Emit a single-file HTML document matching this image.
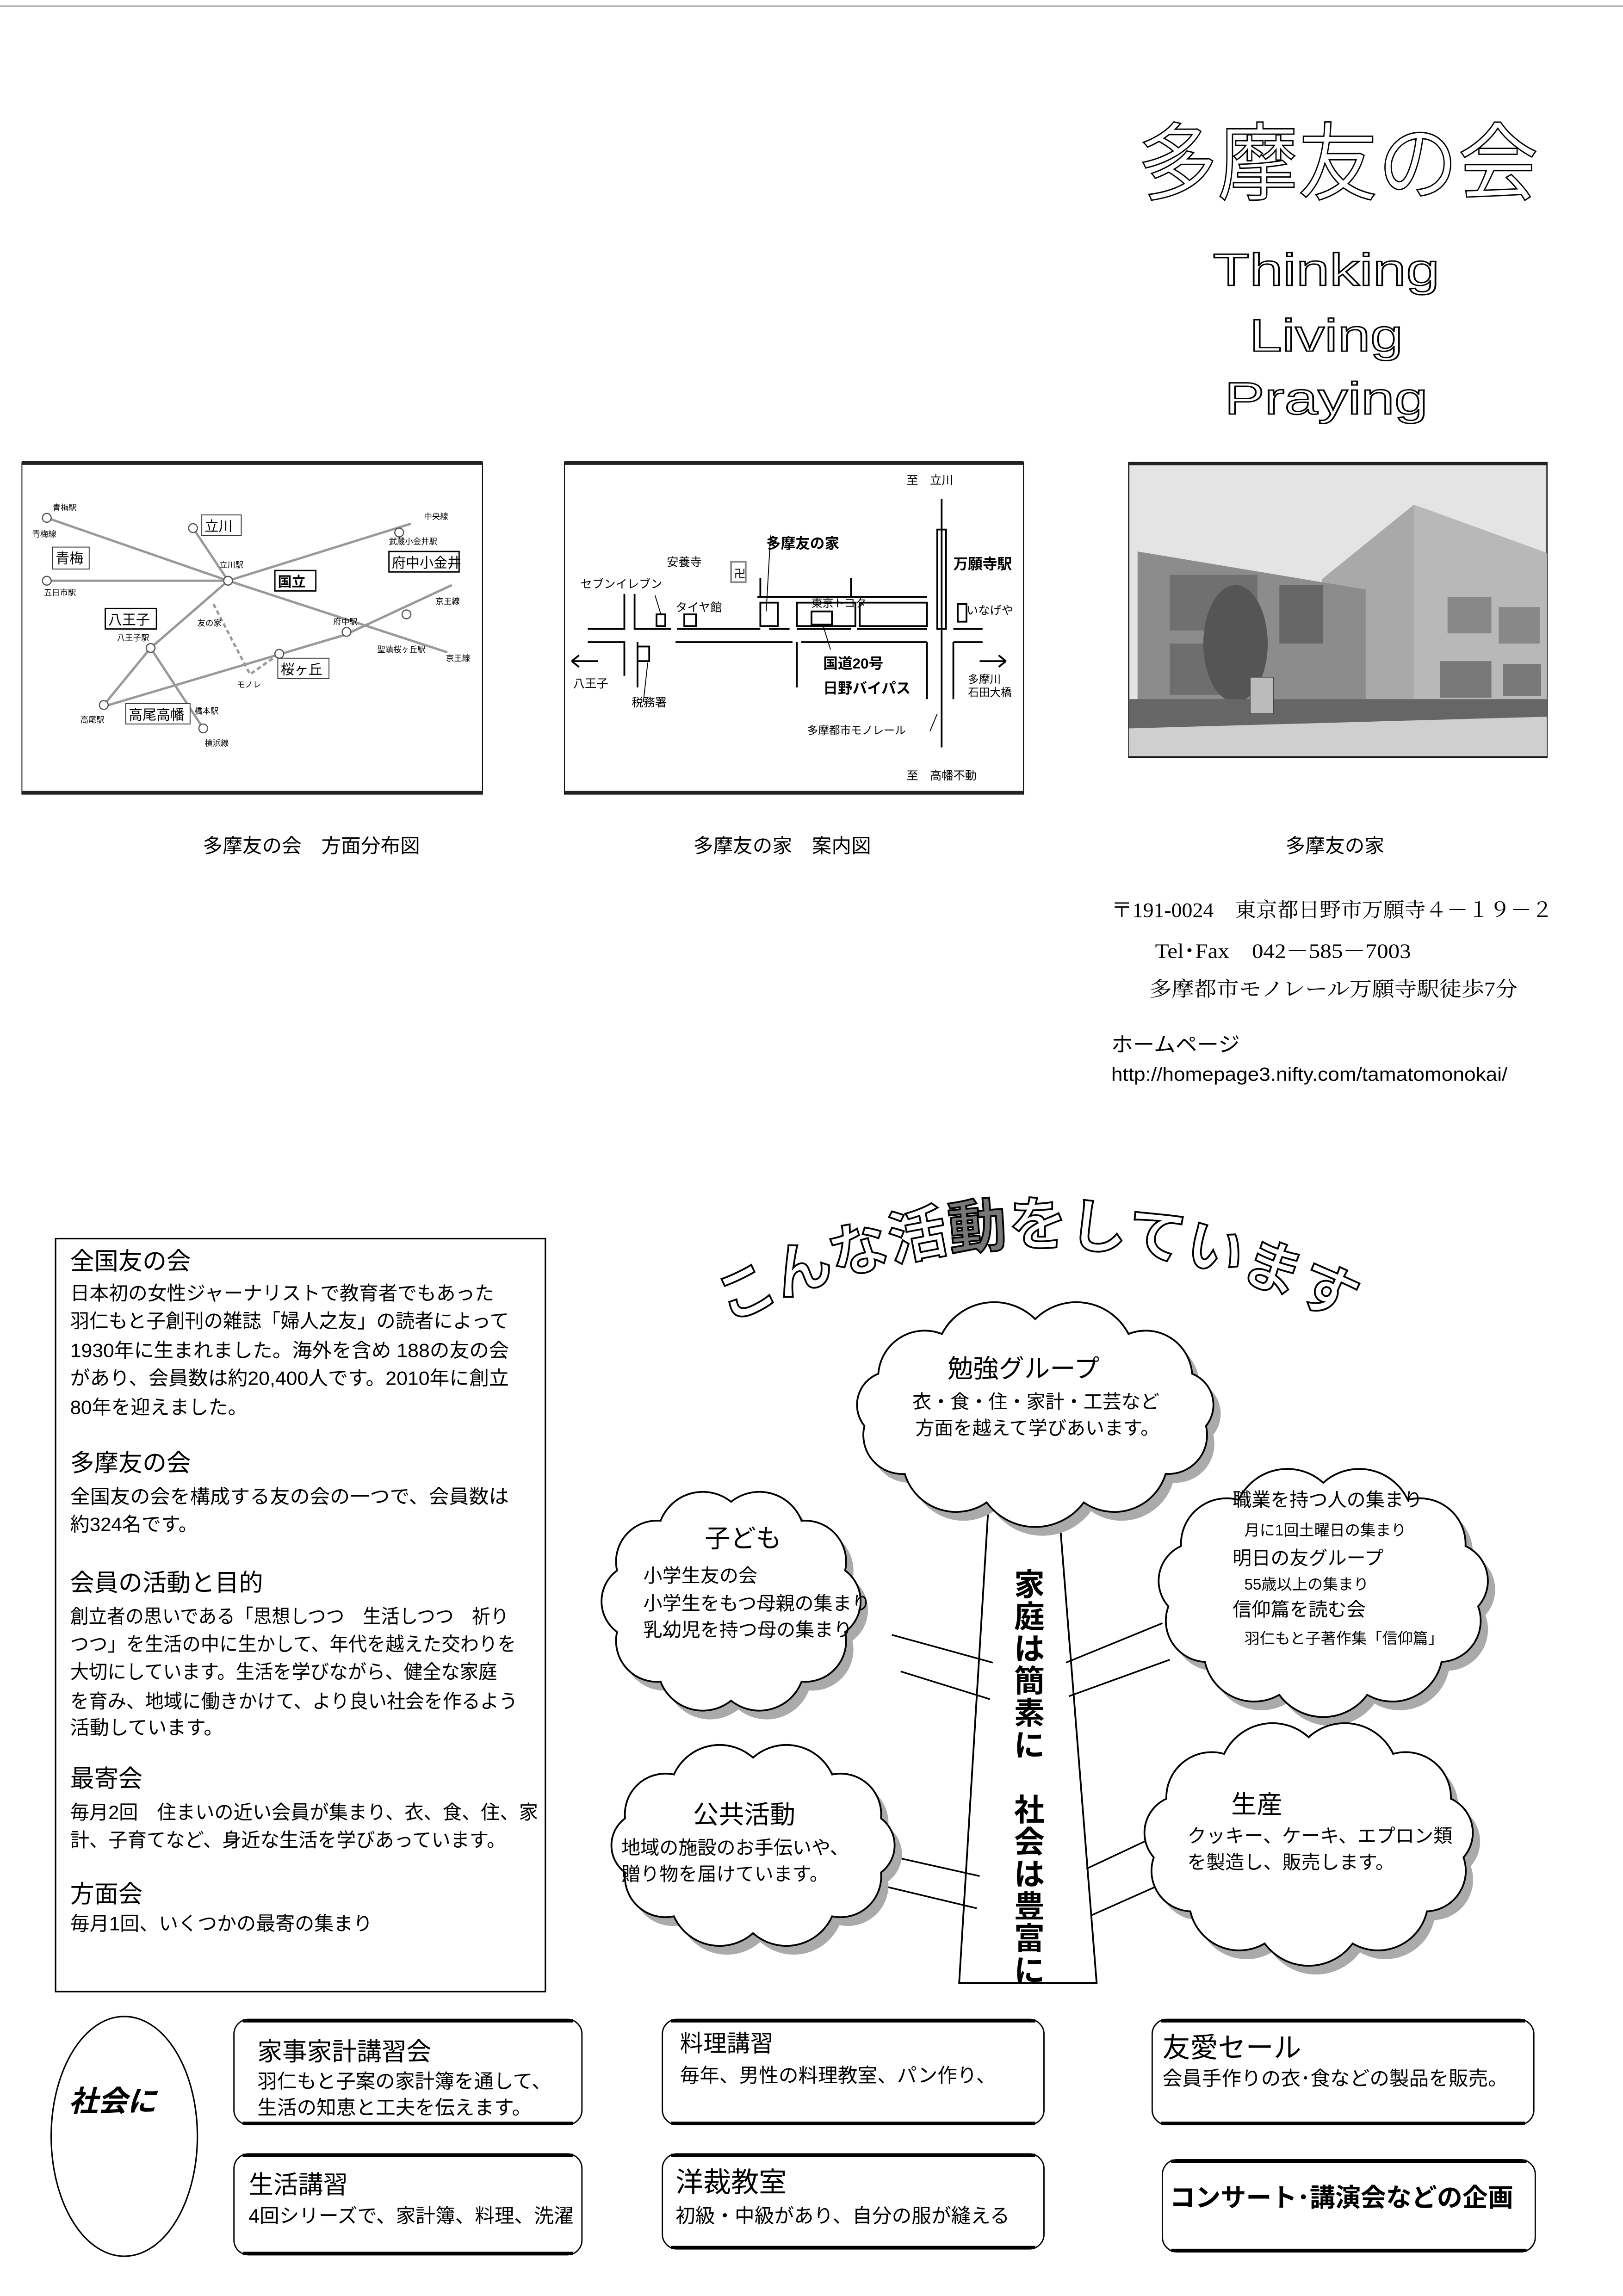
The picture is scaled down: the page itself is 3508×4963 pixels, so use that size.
<!DOCTYPE html>
<html><head><meta charset="utf-8">
<style>
html,body{margin:0;padding:0;background:#fff;}
svg{display:block;}
text{font-family:"Liberation Sans","Noto Sans CJK JP",sans-serif;fill:#000;}
.s{font-family:"Liberation Serif","Noto Serif CJK SC",serif;}
.b{font-weight:bold;}
</style></head>
<body>
<svg id="pg" xmlns="http://www.w3.org/2000/svg" width="3508" height="4963" viewBox="0 0 1110 1570">
<rect width="1110" height="1570" fill="#fff"/>
<line x1="0" y1="4" x2="1110" y2="4" stroke="#aaa" stroke-width="1"/>

<!-- Title -->
<g fill="#fff" stroke="#000" stroke-width="0.9">
<text x="778" y="132" font-size="58" textLength="274" lengthAdjust="spacingAndGlyphs" style="fill:#fff">多摩友の会</text>
<text x="907" y="195" font-size="31" text-anchor="middle" textLength="155" lengthAdjust="spacingAndGlyphs" style="fill:#fff">Thinking</text>
<text x="907" y="240" font-size="31" text-anchor="middle" textLength="105" lengthAdjust="spacingAndGlyphs" style="fill:#fff">Living</text>
<text x="907" y="283" font-size="31" text-anchor="middle" textLength="139" lengthAdjust="spacingAndGlyphs" style="fill:#fff">Praying</text>
</g>

<!-- Map 1 -->
<g>
<rect x="15" y="316" width="315" height="227" fill="#fff" stroke="#000" stroke-width="0.6"/>
<line x1="15" y1="316.5" x2="330" y2="316.5" stroke="#222" stroke-width="2.5"/>
<line x1="15" y1="542" x2="330" y2="542" stroke="#222" stroke-width="2.5"/>
<g stroke="#999" stroke-width="1.6" fill="none">
<polyline points="32,354 156,397 306,446"/>
<polyline points="32,397 156,397 281,358"/>
<polyline points="71,483 236,434 309,400"/>
<polyline points="132,361 156,397 103,443 71,482"/>
<polyline points="103,443 139,498"/>
<polyline points="146,413 160,440 171,461 191,447" stroke-dasharray="3,2"/>
</g>
<g fill="#fff" stroke="#555" stroke-width="0.8">
<circle cx="32" cy="354" r="3"/><circle cx="32" cy="397" r="3"/><circle cx="132" cy="361" r="3"/>
<circle cx="156" cy="397" r="3"/><circle cx="273" cy="364" r="3"/><circle cx="237" cy="432" r="3"/>
<circle cx="278" cy="420" r="3"/><circle cx="103" cy="443" r="3"/><circle cx="71" cy="482" r="3"/>
<circle cx="139" cy="498" r="3"/><circle cx="191" cy="447" r="3"/>
</g>
<g font-size="5.5" fill="#333">
<text x="36" y="349">青梅駅</text><text x="22" y="367">青梅線</text><text x="30" y="407">五日市駅</text>
<text x="290" y="355">中央線</text><text x="266" y="372">武蔵小金井駅</text><text x="298" y="413">京王線</text>
<text x="150" y="388">立川駅</text><text x="228" y="427">府中駅</text><text x="258" y="446">聖蹟桜ヶ丘駅</text>
<text x="305" y="452">京王線</text><text x="80" y="438">八王子駅</text><text x="55" y="494">高尾駅</text>
<text x="133" y="488">橋本駅</text><text x="140" y="510">横浜線</text><text x="135" y="428">友の家</text>
<text x="162" y="470">モノレ</text>
</g>
<g font-size="9.5">
<rect x="36" y="374" width="25" height="15" fill="#fff" stroke="#333" stroke-width="0.6"/><text x="38" y="385">青梅</text>
<rect x="138" y="352" width="27" height="14" fill="#fff" stroke="#333" stroke-width="0.6"/><text x="140" y="363">立川</text>
<rect x="188" y="390" width="28" height="14" fill="#fff" stroke="#000" stroke-width="0.9"/><text x="190" y="401" class="b">国立</text>
<rect x="266" y="377" width="48" height="14" fill="#fff" stroke="#000" stroke-width="0.9"/><text x="268" y="388">府中小金井</text>
<rect x="72" y="416" width="35" height="14" fill="#fff" stroke="#000" stroke-width="0.9"/><text x="74" y="427">八王子</text>
<rect x="190" y="450" width="35" height="14" fill="#fff" stroke="#333" stroke-width="0.6"/><text x="192" y="461">桜ヶ丘</text>
<rect x="86" y="481" width="44" height="14" fill="#fff" stroke="#333" stroke-width="0.6"/><text x="88" y="492">高尾高幡</text>
</g>
</g>

<!-- Map 2 -->
<g>
<rect x="386" y="316" width="314" height="227" fill="#fff" stroke="#000" stroke-width="0.6"/>
<line x1="386" y1="316.5" x2="700" y2="316.5" stroke="#222" stroke-width="2.5"/>
<line x1="386" y1="542" x2="700" y2="542" stroke="#222" stroke-width="2.5"/>
<g stroke="#000" stroke-width="1.2" fill="none">
<polyline points="402,430 427,430 427,406"/>
<polyline points="434,406 434,430 459,430"/>
<line x1="463" y1="430" x2="520" y2="430"/>
<line x1="526" y1="430" x2="540" y2="430"/>
<line x1="545" y1="430" x2="582" y2="430"/>
<line x1="586" y1="430" x2="634" y2="430"/>
<line x1="652" y1="430" x2="672" y2="430"/>
<polyline points="402,439 427,439 427,462"/>
<polyline points="436,439 436,470"/>
<polyline points="462,439 542,439"/>
<polyline points="545,439 545,470"/>
<polyline points="548,439 634,439"/>
<polyline points="652,439 652,478"/>
<polyline points="652,439 672,439"/>
<polyline points="634,439 634,478"/>
<polyline points="518,408 634,408"/>
<polyline points="582,395 582,408"/>
<line x1="520" y1="395" x2="520" y2="408"/>
<rect x="520" y="412" width="12" height="16"/>
<rect x="545" y="412" width="40" height="16"/>
<rect x="588" y="412" width="46" height="16"/>
<rect x="555" y="418" width="14" height="9"/>
<rect x="468" y="420" width="8" height="8"/>
<rect x="449" y="420" width="6" height="8"/>
<rect x="655" y="413" width="6" height="12"/>
<rect x="436" y="442" width="8" height="10"/>
<rect x="500" y="384" width="10" height="14" stroke="#888"/>
<line x1="644" y1="341" x2="644" y2="511"/>
<rect x="641" y="362" width="6" height="68"/>
<line x1="448" y1="407" x2="452" y2="420" stroke-width="0.6"/>
<line x1="443" y1="453" x2="440" y2="480" stroke-width="0.6"/>
<line x1="527" y1="366" x2="524" y2="418" stroke-width="0.6"/>
<line x1="563" y1="428" x2="568" y2="444" stroke-width="0.6"/>
<line x1="641" y1="488" x2="636" y2="500" stroke-width="0.6"/>
</g>
<g font-size="10" fill="#000">
<path d="M391 452 h18 M391 452 l5 -4 M391 452 l5 4" stroke="#000" fill="none" stroke-width="1.2"/>
<path d="M670 452 h18 M688 452 l-5 -4 M688 452 l-5 4" stroke="#000" fill="none" stroke-width="1.2"/>
<text x="620" y="331" font-size="8">至　立川</text>
<text x="524" y="375" font-size="10" class="b">多摩友の家</text>
<text x="456" y="387" font-size="8">安養寺</text>
<text x="502" y="395" font-size="8">卍</text>
<text x="397" y="402" font-size="8">セブンイレブン</text>
<text x="462" y="418" font-size="8">タイヤ館</text>
<text x="555" y="415" font-size="7.5">東京トヨタ</text>
<text x="652" y="389" font-size="10" class="b">万願寺駅</text>
<text x="661" y="420" font-size="8">いなげや</text>
<text x="392" y="470" font-size="8">八王子</text>
<text x="432" y="483" font-size="8">税務署</text>
<text x="563" y="457" font-size="10" class="b">国道20号</text>
<text x="563" y="474" font-size="10" class="b">日野バイパス</text>
<text x="662" y="467" font-size="7.5">多摩川</text>
<text x="662" y="476" font-size="7.5">石田大橋</text>
<text x="552" y="502" font-size="7.5">多摩都市モノレール</text>
<text x="620" y="533" font-size="8">至　高幡不動</text>
</g>
</g>

<!-- Photo -->
<g>
<rect x="772" y="316" width="286" height="202" fill="#e4e4e4" stroke="#000" stroke-width="0.8"/>
<line x1="772" y1="317" x2="1058" y2="317" stroke="#222" stroke-width="2"/>
<line x1="772" y1="517" x2="1058" y2="517" stroke="#222" stroke-width="2"/>
<polygon points="904,396 967,345 1058,378 1058,485 904,485" fill="#a9a9a9"/>
<polygon points="967,345 1058,378 1058,485 967,485" fill="#b8b8b8"/>
<polygon points="778,377 934,403 934,485 778,485" fill="#8c8c8c"/>
<rect x="800" y="393" width="60" height="38" fill="#707070"/>
<rect x="875" y="400" width="30" height="40" fill="#666"/>
<rect x="800" y="440" width="40" height="35" fill="#6e6e6e"/>
<rect x="990" y="408" width="30" height="25" fill="#888"/>
<rect x="1025" y="415" width="28" height="25" fill="#888"/>
<rect x="985" y="452" width="35" height="25" fill="#787878"/>
<rect x="1028" y="454" width="26" height="22" fill="#787878"/>
<ellipse cx="845" cy="440" rx="22" ry="40" fill="#555"/>
<rect x="772" y="478" width="286" height="20" fill="#666"/>
<polygon points="772,498 1058,490 1058,517 772,517" fill="#cfcfcf"/>
<rect x="855" y="463" width="16" height="25" fill="#bbb" stroke="#444" stroke-width="0.5"/>
</g>

<!-- captions -->
<g font-size="13.5">
<text x="213" y="583" text-anchor="middle">多摩友の会　方面分布図</text>
<text x="535" y="583" text-anchor="middle">多摩友の家　案内図</text>
<text x="913" y="583" text-anchor="middle">多摩友の家</text>
</g>
<g font-size="14">
<text class="s" x="760" y="627" textLength="302" lengthAdjust="spacingAndGlyphs">〒191-0024　東京都日野市万願寺４－１９－２</text>
<text class="s" x="790" y="655" textLength="175" lengthAdjust="spacingAndGlyphs">Tel･Fax　042－585－7003</text>
<text class="s" x="786" y="681" textLength="252" lengthAdjust="spacingAndGlyphs">多摩都市モノレール万願寺駅徒歩7分</text>
<text x="760" y="719" textLength="88" lengthAdjust="spacingAndGlyphs">ホームページ</text>
<text x="760" y="739" font-size="13" textLength="271" lengthAdjust="spacingAndGlyphs">http://homepage3.nifty.com/tamatomonokai/</text>
</g>

<!-- left text box -->
<rect x="38" y="847" width="335" height="515" fill="#fff" stroke="#000" stroke-width="1"/>
<g font-size="13.3">
<text x="48" y="868" font-size="16.5">全国友の会</text>
<text x="48" y="889" textLength="290" lengthAdjust="spacingAndGlyphs">日本初の女性ジャーナリストで教育者でもあった</text>
<text x="48" y="908" textLength="300" lengthAdjust="spacingAndGlyphs">羽仁もと子創刊の雑誌「婦人之友」の読者によって</text>
<text x="48" y="928" textLength="300" lengthAdjust="spacingAndGlyphs">1930年に生まれました。海外を含め 188の友の会</text>
<text x="48" y="947" textLength="300" lengthAdjust="spacingAndGlyphs">があり、会員数は約20,400人です。2010年に創立</text>
<text x="48" y="967">80年を迎えました。</text>
<text x="48" y="1006" font-size="16.5">多摩友の会</text>
<text x="48" y="1028" textLength="300" lengthAdjust="spacingAndGlyphs">全国友の会を構成する友の会の一つで、会員数は</text>
<text x="48" y="1047">約324名です。</text>
<text x="48" y="1088" font-size="16.5">会員の活動と目的</text>
<text x="48" y="1110" textLength="300" lengthAdjust="spacingAndGlyphs">創立者の思いである「思想しつつ　生活しつつ　祈り</text>
<text x="48" y="1129" textLength="305" lengthAdjust="spacingAndGlyphs">つつ」を生活の中に生かして、年代を越えた交わりを</text>
<text x="48" y="1148" textLength="292" lengthAdjust="spacingAndGlyphs">大切にしています。生活を学びながら、健全な家庭</text>
<text x="48" y="1168" textLength="306" lengthAdjust="spacingAndGlyphs">を育み、地域に働きかけて、より良い社会を作るよう</text>
<text x="48" y="1186">活動しています。</text>
<text x="48" y="1222" font-size="16.5">最寄会</text>
<text x="48" y="1244" textLength="320" lengthAdjust="spacingAndGlyphs">毎月2回　住まいの近い会員が集まり、衣、食、住、家</text>
<text x="48" y="1263" textLength="298" lengthAdjust="spacingAndGlyphs">計、子育てなど、身近な生活を学びあっています。</text>
<text x="48" y="1301" font-size="16.5">方面会</text>
<text x="48" y="1320">毎月1回、いくつかの最寄の集まり</text>
</g>

<!-- heading arc -->
<defs><path id="arc" d="M498,905 Q702,800 912,900"/></defs>
<text font-size="40" font-weight="bold" style="fill:#fff" stroke="#000" stroke-width="1.2"><textPath href="#arc" textLength="440" lengthAdjust="spacingAndGlyphs">こんな活<tspan style="fill:#777">動</tspan>をしています</textPath></text>

<!-- tree -->
<polygon points="676,1030 724,1030 750,1356 656,1356" fill="#fff" stroke="#000" stroke-width="1.2"/>
<g stroke="#000" stroke-width="1.1">
<line x1="610" y1="1118" x2="679" y2="1137"/>
<line x1="616" y1="1143" x2="677" y2="1162"/>
<line x1="729" y1="1137" x2="795" y2="1110"/>
<line x1="731" y1="1160" x2="800" y2="1135"/>
<line x1="612" y1="1270" x2="670" y2="1283"/>
<line x1="605" y1="1290" x2="668" y2="1305"/>
<line x1="743" y1="1278" x2="792" y2="1255"/>
<line x1="746" y1="1310" x2="800" y2="1286"/>
</g>
<g id="clouds"></g>

<g font-size="21" font-weight="bold" text-anchor="middle">
<text x="704" y="1091">家</text><text x="704" y="1113">庭</text><text x="704" y="1135">は</text>
<text x="704" y="1157">簡</text><text x="704" y="1179">素</text><text x="704" y="1201">に</text>
<text x="704" y="1245">社</text><text x="704" y="1267">会</text><text x="704" y="1289">は</text>
<text x="704" y="1311">豊</text><text x="704" y="1333">富</text><text x="704" y="1355">に</text>
</g>

<g id="ctext">
<text x="700" y="942" font-size="17.5" text-anchor="middle">勉強グループ</text>
<text x="624" y="963" font-size="13">衣・食・住・家計・工芸など</text>
<text x="626" y="981" font-size="13">方面を越えて学びあいます。</text>
<text x="482" y="1058" font-size="17.5">子ども</text>
<text x="440" y="1082" font-size="13">小学生友の会</text>
<text x="440" y="1101" font-size="13">小学生をもつ母親の集まり</text>
<text x="440" y="1119" font-size="13">乳幼児を持つ母の集まり</text>
<text x="843" y="1030" font-size="13">職業を持つ人の集まり</text>
<text x="851" y="1050" font-size="10.5">月に1回土曜日の集まり</text>
<text x="843" y="1070" font-size="13">明日の友グループ</text>
<text x="851" y="1087" font-size="10.5">55歳以上の集まり</text>
<text x="843" y="1105" font-size="13">信仰篇を読む会</text>
<text x="851" y="1124" font-size="10.5">羽仁もと子著作集「信仰篇」</text>
<text x="474" y="1247" font-size="17.5">公共活動</text>
<text x="425" y="1268" font-size="13">地域の施設のお手伝いや、</text>
<text x="425" y="1286" font-size="13">贈り物を届けています。</text>
<text x="842" y="1240" font-size="17.5">生産</text>
<text x="812" y="1260" font-size="13">クッキー、ケーキ、エプロン類</text>
<text x="812" y="1278" font-size="13">を製造し、販売します。</text>
</g>

<!-- bottom boxes -->
<ellipse cx="85" cy="1461" rx="50" ry="82" fill="#fff" stroke="#000" stroke-width="1"/>
<text x="47" y="1444" font-size="20" font-weight="bold" font-style="italic">社会に</text>
<g fill="#fff" stroke="#000" stroke-width="0.9">
<rect x="160" y="1381" width="238" height="72" rx="10"/>
<rect x="453" y="1381" width="261" height="72" rx="10"/>
<rect x="788" y="1381" width="261" height="72" rx="10"/>
<rect x="160" y="1473" width="238" height="69" rx="10"/>
<rect x="453" y="1473" width="261" height="65" rx="10"/>
<rect x="795" y="1477" width="255" height="63" rx="10"/>
</g>
<g stroke="#000" stroke-width="2.2">
<line x1="166" y1="1382" x2="392" y2="1382"/><line x1="166" y1="1452" x2="392" y2="1452"/>
<line x1="459" y1="1382" x2="708" y2="1382"/><line x1="459" y1="1452" x2="708" y2="1452"/>
<line x1="794" y1="1382" x2="1043" y2="1382"/><line x1="794" y1="1452" x2="1043" y2="1452"/>
<line x1="166" y1="1474" x2="392" y2="1474"/><line x1="166" y1="1541" x2="392" y2="1541"/>
<line x1="459" y1="1474" x2="708" y2="1474"/><line x1="459" y1="1537" x2="708" y2="1537"/>
<line x1="801" y1="1478" x2="1044" y2="1478"/><line x1="801" y1="1539" x2="1044" y2="1539"/>
</g>
<g>
<text x="176" y="1409" font-size="17">家事家計講習会</text>
<text x="176" y="1428" font-size="13.5">羽仁もと子案の家計簿を通して、</text>
<text x="176" y="1446" font-size="13.5">生活の知恵と工夫を伝えます。</text>
<text x="465" y="1403" font-size="16">料理講習</text>
<text x="465" y="1424" font-size="13.5">毎年、男性の料理教室、パン作り、</text>
<text x="795" y="1407" font-size="19">友愛セール</text>
<text x="795" y="1426" font-size="13.5">会員手作りの衣･食などの製品を販売。</text>
<text x="170" y="1500" font-size="17">生活講習</text>
<text x="170" y="1520" font-size="13.5">4回シリーズで、家計簿、料理、洗濯</text>
<text x="462" y="1499" font-size="19">洋裁教室</text>
<text x="462" y="1520" font-size="13.5">初級・中級があり、自分の服が縫える</text>
<text x="800" y="1509" font-size="17.5" font-weight="bold" textLength="235" lengthAdjust="spacingAndGlyphs">コンサート･講演会などの企画</text>
</g>
</svg>
<script>
(function(){
var NS="http://www.w3.org/2000/svg";
var g=document.getElementById("clouds");
function cloud(cx,cy,rx,ry,n){
  var pts=[];
  for(var i=0;i<=n;i++){var a=-Math.PI/2+2*Math.PI*i/n;pts.push([cx+rx*Math.cos(a),cy+ry*Math.sin(a)]);}
  var d="M"+pts[0][0].toFixed(1)+","+pts[0][1].toFixed(1);
  for(var i=1;i<=n;i++){
    var dx=pts[i][0]-pts[i-1][0],dy=pts[i][1]-pts[i-1][1];
    var r=Math.sqrt(dx*dx+dy*dy)*0.62;
    d+=" A"+r.toFixed(1)+","+r.toFixed(1)+" 0 0 1 "+pts[i][0].toFixed(1)+","+pts[i][1].toFixed(1);
  }
  return d+"Z";
}
var cs=[[708,966,118,64,11],[500,1095,82,68,10],[905,1088,107,74,11],[515,1262,92,60,10],[895,1260,107,72,11]];
cs.forEach(function(c){
  var d=cloud.apply(null,c);
  var s=document.createElementNS(NS,"path");
  s.setAttribute("d",d);s.setAttribute("fill","#aaa");s.setAttribute("transform","translate(5,6)");
  g.appendChild(s);
  var p=document.createElementNS(NS,"path");
  p.setAttribute("d",d);p.setAttribute("fill","#fff");p.setAttribute("stroke","#000");p.setAttribute("stroke-width","1.2");
  g.appendChild(p);
});
})();
</script>
</body></html>
